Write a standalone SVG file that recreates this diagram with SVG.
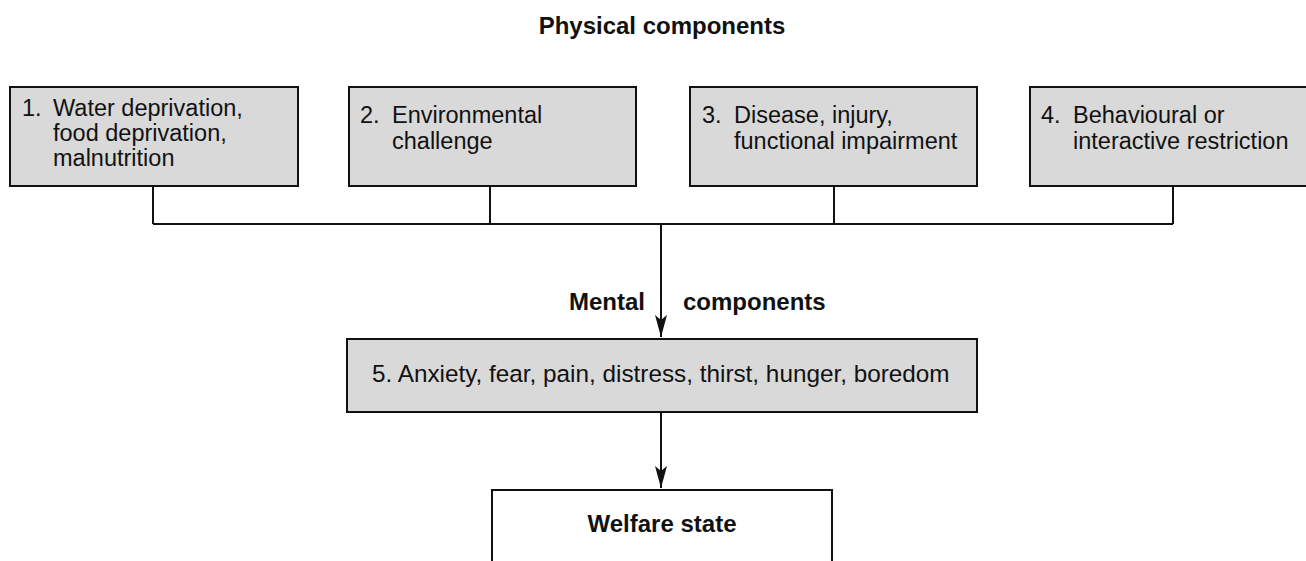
<svg xmlns="http://www.w3.org/2000/svg" width="1306" height="561" viewBox="0 0 1306 561">
<style>
.box{fill:#d9d9d9;stroke:#111;stroke-width:2}
.wbox{fill:#fff;stroke:#111;stroke-width:2}
.t{font-family:"Liberation Sans",Arial,sans-serif;font-size:23.5px;fill:#111}
.b{font-family:"Liberation Sans",Arial,sans-serif;font-size:24px;font-weight:bold;fill:#111}
.ln{fill:none;stroke:#111;stroke-width:2}
</style>
<defs>
<marker id="ah" markerWidth="24" markerHeight="12" refX="22" refY="6" orient="auto" markerUnits="userSpaceOnUse" viewBox="0 0 24 12">
<path d="M0,0 L22,6 L0,12 L5,6 Z" fill="#111"/>
</marker>
</defs>
<rect width="1306" height="561" fill="#fff"/>
<text class="b" x="662" y="34" text-anchor="middle">Physical components</text>
<g id="n1"><rect class="box" x="10" y="87" width="288" height="99"/>
<text class="t" x="22" y="116">1.</text>
<text class="t" x="53" y="116">Water deprivation,</text>
<text class="t" x="53" y="141">food deprivation,</text>
<text class="t" x="53" y="166">malnutrition</text></g>
<g id="n2"><rect class="box" x="349" y="87" width="287" height="99"/>
<text class="t" x="360" y="123">2.</text>
<text class="t" x="392" y="123">Environmental</text>
<text class="t" x="392" y="149">challenge</text></g>
<g id="n3"><rect class="box" x="690" y="87" width="287" height="99"/>
<text class="t" x="702" y="123">3.</text>
<text class="t" x="734" y="123">Disease, injury,</text>
<text class="t" x="734" y="149">functional impairment</text></g>
<g id="n4"><rect class="box" x="1030" y="87" width="288" height="99"/>
<text class="t" x="1041" y="123">4.</text>
<text class="t" x="1073" y="123">Behavioural or</text>
<text class="t" x="1073" y="149">interactive restriction</text></g>
<g id="connectors">
<path class="ln" d="M153,186 V224 M490,186 V224 M834,186 V224 M1173,186 V224 M153,224 H1173"/>
<path class="ln" d="M661,224 V337" marker-end="url(#ah)"/>
<path class="ln" d="M661,412 V488" marker-end="url(#ah)"/>
</g>
<text class="b" x="645" y="310" text-anchor="end">Mental</text>
<text class="b" x="683" y="310">components</text>
<g id="n5"><rect class="box" x="347" y="339" width="630" height="73"/>
<text class="t" x="372" y="382" style="font-size:24.3px">5. Anxiety, fear, pain, distress, thirst, hunger, boredom</text></g>
<g id="n6"><rect class="wbox" x="492" y="490" width="340" height="90"/>
<text class="b" x="662" y="532" text-anchor="middle">Welfare state</text></g>
</svg>
